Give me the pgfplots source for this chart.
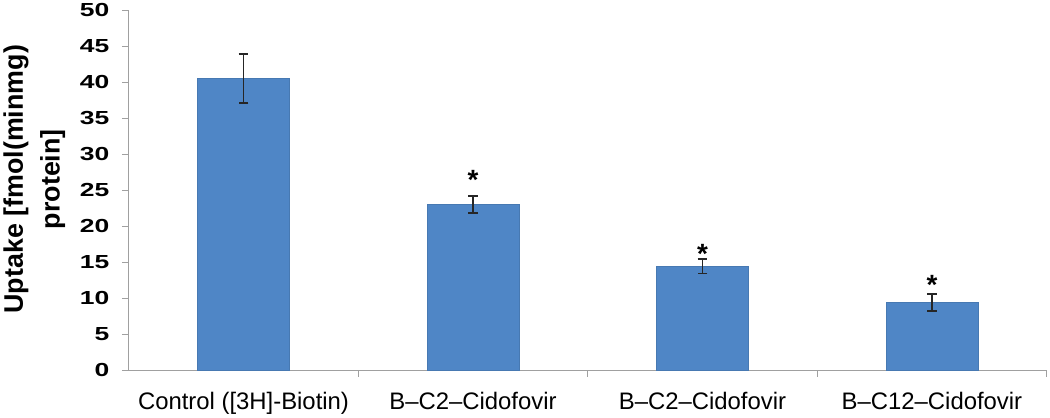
\documentclass[border=0pt]{standalone}
\usepackage{pgfplots}
\pgfplotsset{compat=1.18}
\usepackage{fontspec}
\setmainfont{Liberation Sans}
\newfontfamily\widenumfont[FakeStretch=1.4]{Liberation Sans}
\definecolor{barblue}{HTML}{4F86C6}
\definecolor{axgray}{HTML}{A0A0A0}
\begin{document}
\begin{tikzpicture}
\begin{axis}[
  scale only axis,
  width=923pt, height=362pt,
  xmin=-0.5, xmax=3.5,
  ymin=0, ymax=50,
  axis x line=bottom, axis y line=left,
  axis line style={-, draw=axgray, line width=1pt},
  ytick={0,5,...,50},
  yticklabel style={font=\widenumfont\fontsize{19}{22}\selectfont\bfseries, xshift=-9pt},
  /pgf/number format/assume math mode=true,
  ytick style={draw=axgray, line width=1pt},
  tick align=outside,
  major tick length=7pt,
  xtick={0,1,2,3},
  xticklabels={Control ([3H]-Biotin), B--C2--Cidofovir, B--C2--Cidofovir, B--C12--Cidofovir},
  xticklabel style={font=\fontsize{24}{27}\selectfont, yshift=-12pt},
  x tick style={draw=none},
  extra x ticks={0.5,1.5,2.5,3.5},
  extra x tick labels={},
  extra x tick style={x tick style={draw=axgray, line width=1pt}},
  ylabel style={align=center, font=\fontsize{27}{37}\selectfont\bfseries, at={(ticklabel cs:0.53)}, yshift=8pt},
  ylabel={Uptake [fmol(minmg)\\protein]},
  clip=false,
]
\addplot[ybar, bar width=0.40, fill=barblue, draw=barblue!90!black, line width=0.6pt,
  error bars/.cd, y dir=both, y explicit,
  error bar style={line width=1.8pt, draw=black!85},
  error mark options={rotate=90, mark size=5pt, line width=1.8pt, draw=black!85}]
  coordinates {
  (0,40.5) +- (0,3.4)
  (1,23.0) +- (0,1.2)
  (2,14.4) +- (0,1.0)
  (3,9.4) +- (0,1.2)
  };
\addplot[draw=none, mark=none,
  nodes near coords={\fontsize{28}{28}\selectfont\bfseries *},
  every node near coord/.style={anchor=center, inner sep=0pt, yshift=-6pt}]
  coordinates {(1,27.2) (2,17.0) (3,12.6)};
\end{axis}
\end{tikzpicture}
\end{document}
